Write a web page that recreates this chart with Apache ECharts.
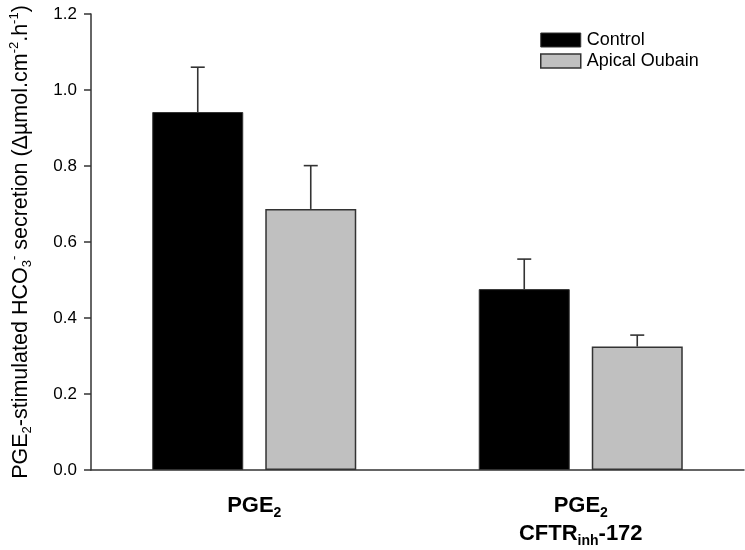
<!DOCTYPE html>
<html><head><meta charset="utf-8">
<script src="https://cdn.jsdelivr.net/npm/echarts@6/dist/echarts.min.js"></script>
<style>html,body{margin:0;padding:0;background:#fff}#c{width:745px;height:550px}</style>
</head><body><div id="c"></div>
<script>
var categories = ['{b|PGE}{bs|2}', '{b|PGE}{bs|2}\n{b|CFTR}{bs|inh}{b|-172}'];
var controlValues = [0.942, 0.476];
var controlErrors = [0.118, 0.079];
var oubainValues = [0.687, 0.325];
var oubainErrors = [0.114, 0.030];
var yTicks = { min: 0, max: 1.2, interval: 0.2 };

var BAR_W = 91, GAP = 22;
var chart = echarts.init(document.getElementById('c'), null, {renderer: 'canvas'});
var FONT = 'Liberation Sans, Arial, sans-serif';

function errSeries(name, vals, errs, side) {
  return {
    type: 'custom', name: name + ' err', z: 5,
    data: vals.map(function (v, i) { return [i, v, v + errs[i]]; }),
    renderItem: function (params, api) {
      var base = api.coord([api.value(0), api.value(1)]);
      var top = api.coord([api.value(0), api.value(2)]);
      var x = base[0] + side * (BAR_W + GAP) / 2;
      var st = { stroke: '#333', lineWidth: 1.6 };
      return { type: 'group', children: [
        { type: 'line', shape: { x1: x, y1: base[1], x2: x, y2: top[1] }, style: st },
        { type: 'line', shape: { x1: x - 7, y1: top[1], x2: x + 7, y2: top[1] }, style: st }
      ]};
    },
    silent: true, tooltip: { show: false }
  };
}

chart.setOption({
  animation: false,
  textStyle: { fontFamily: FONT },
  grid: { left: 91, right: 1, top: 14, bottom: 80, outerBoundsMode: 'none', containLabel: false },
  legend: {
    left: 535, top: 26, orient: 'vertical', itemWidth: 40, itemHeight: 14, itemGap: 3,
    icon: 'rect',
    textStyle: { fontSize: 18, color: '#000', fontFamily: FONT, padding: [0, 0, 0, 1] },
    data: [
      { name: 'Control', itemStyle: { color: '#000', borderColor: '#333', borderWidth: 1 } },
      { name: 'Apical Oubain', itemStyle: { color: '#c0c0c0', borderColor: '#333', borderWidth: 1.5 } }
    ]
  },
  xAxis: {
    type: 'category', data: categories,
    axisLine: { lineStyle: { color: '#333', width: 1.5 } },
    axisTick: { show: false },
    axisLabel: {
      margin: 22, color: '#000', lineHeight: 28,
      rich: {
        b: { fontSize: 22, fontWeight: 'bold', color: '#000', fontFamily: FONT, lineHeight: 28 },
        bs: { fontSize: 14, fontWeight: 'bold', color: '#000', fontFamily: FONT, verticalAlign: 'bottom', lineHeight: 22 }
      }
    }
  },
  yAxis: {
    type: 'value', min: yTicks.min, max: yTicks.max, interval: yTicks.interval,
    axisLine: { show: true, lineStyle: { color: '#333', width: 1.5 } },
    axisTick: { show: true, length: 7, lineStyle: { color: '#333', width: 1.5 } },
    splitLine: { show: false },
    axisLabel: { color: '#000', fontSize: 17, margin: 14, fontFamily: FONT, formatter: function (v) { return v.toFixed(1); } },
    name: '{n|PGE}{sb|2}{n|-stimulated HCO}{sb|3}{sp|-}{n| secretion (Δµmol.cm}{sp|-2}{n|.h}{sp|-1}{n|)}',
    nameLocation: 'middle', nameGap: 57, nameRotate: 90,
    nameTextStyle: {
      rich: {
        n: { fontSize: 21.5, color: '#000', fontFamily: FONT, lineHeight: 26 },
        sb: { fontSize: 13, color: '#000', fontFamily: FONT, verticalAlign: 'bottom', lineHeight: 22 },
        sp: { fontSize: 13, color: '#000', fontFamily: FONT, verticalAlign: 'top', lineHeight: 22 }
      }
    }
  },
  series: [
    { name: 'Control', type: 'bar', data: controlValues, barWidth: BAR_W, barGap: (GAP / BAR_W * 100).toFixed(1) + '%',
      itemStyle: { color: '#000', borderColor: '#333', borderWidth: 1 } },
    { name: 'Apical Oubain', type: 'bar', data: oubainValues, barWidth: BAR_W,
      itemStyle: { color: '#c0c0c0', borderColor: '#333', borderWidth: 1.5 } },
    errSeries('Control', controlValues, controlErrors, -1),
    errSeries('Apical Oubain', oubainValues, oubainErrors, 1)
  ]
});
</script></body></html>
